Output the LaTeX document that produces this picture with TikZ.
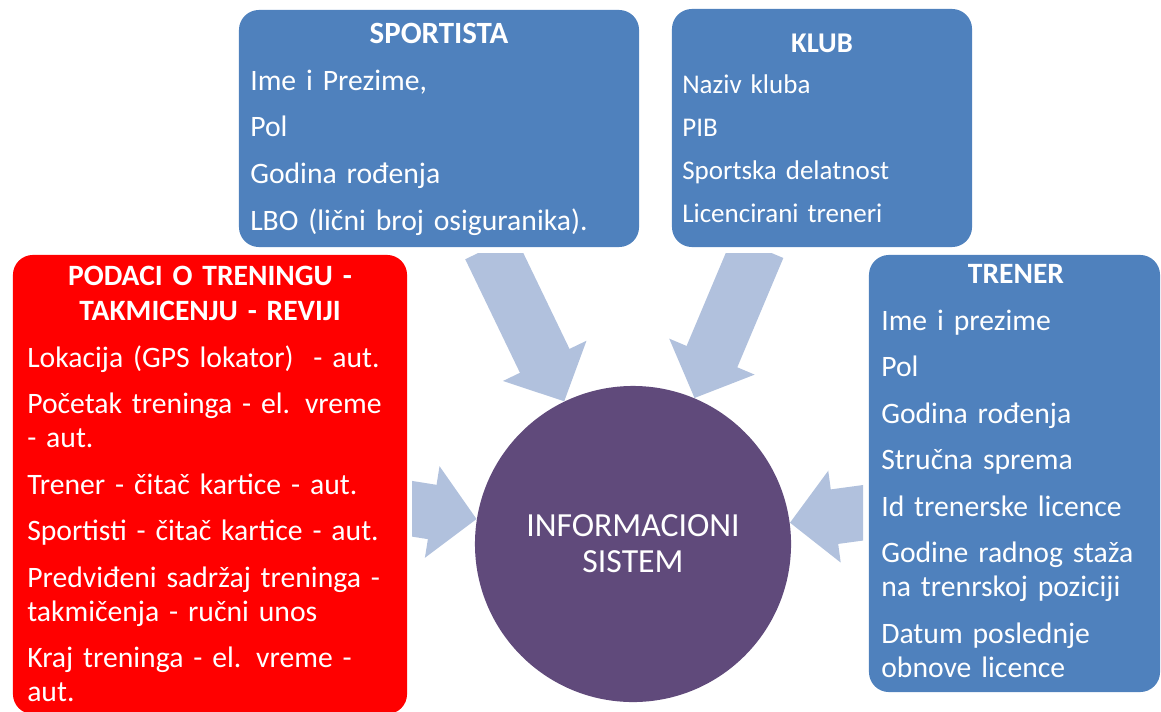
\documentclass[tikz,border=0pt]{standalone}
\usepackage{fontspec}
\setmainfont{Carlito}[WordSpace=0.9]
\usetikzlibrary{arrows.meta}

\definecolor{boxblue}{RGB}{79,129,189}
\definecolor{sysviolet}{RGB}{96,74,123}
\definecolor{arrowblue}{RGB}{177,193,221}
\definecolor{datared}{RGB}{255,0,0}

\tikzset{
  infobox/.style={rectangle, rounded corners=0.5cm, inner sep=0, fill=boxblue},
  boxtitle/.style={anchor=base, text width=9.5cm, align=center, text=white, inner sep=0,
    font=\bfseries\fontsize{21}{24.9}\selectfont},
  boxitems/.style={anchor=base west, text width=10cm, align=left, text=white, inner sep=0,
    font=\fontsize{21.1}{24.2}\selectfont},
  bigarrow/.style={arrowblue, line width=1.375cm,
    -{Triangle[width=2.25cm,length=1.125cm]}}
}

\begin{document}
\begin{tikzpicture}[x=0.025cm, y=-0.025cm]

\useasboundingbox (0,0) rectangle (1161,711);

%% The four boxes
\node[infobox, minimum width=10cm, minimum height=5.925cm] (sportista) at (439,128.5) {};
\node[infobox, minimum width=7.5cm, minimum height=5.95cm] (klub) at (822,128) {};
\node[infobox, minimum width=7.275cm, minimum height=10.925cm] (trener) at (1014.5,473.5) {};
\node[infobox, fill=datared, minimum width=9.85cm, minimum height=11.475cm] (podaci) at (210,484.5) {};

%% The titles
\node[boxtitle, font=\bfseries\fontsize{22}{24.9}\selectfont] (sportistatitle) at (439,43) {SPORTISTA};
\node[boxtitle, font=\bfseries\fontsize{20.3}{24.9}\selectfont] (klubtitle) at (822,52) {KLUB};
\node[boxtitle] (trenertitle) at (1016,283) {TRENER};
\node[boxtitle] (podacititle) at (210,285) {PODACI O TRENINGU -\\TAKMICENJU - REVIJI};

%% The items in the boxes
\node[boxitems] (sportistaitems) at (250,90)
  {Ime i Prezime,\\[9pt] Pol\\[9pt] Godina rođenja\\[9pt] LBO (lični broj osiguranika).};
\node[boxitems, font=\fontsize{19.2}{22.5}\selectfont] (klubitems) at (682,93)
  {Naziv kluba\\[8.1pt] PIB\\[8.1pt] Sportska delatnost\\[8.1pt] Licencirani treneri};
\node[boxitems] (treneritems) at (881,330)
  {Ime i prezime\\[8.9pt] Pol\\[8.9pt] Godina rođenja\\[8.9pt] Stručna sprema\\[8.9pt]
   Id trenerske licence\\[8.9pt] Godine radnog staža\\ na trenrskoj poziciji\\[8.9pt]
   Datum poslednje\\ obnove licence};
\node[boxitems] (podaciitems) at (27,367)
  {Lokacija (GPS lokator)~ - aut.\\[8.9pt] Početak treninga - el. vreme\\ - aut.\\[8.9pt]
   Trener - čitač kartice - aut.\\[8.9pt] Sportisti - čitač kartice - aut.\\[8.9pt]
   Predviđeni sadržaj treninga -\\ takmičenja - ručni unos\\[8.9pt]
   Kraj treninga - el. vreme -\\ aut.};

%% The system in the middle
\node[circle, fill=sysviolet, minimum size=7.9cm, inner sep=0, text=white, align=center,
  font=\fontsize{24}{25.6}\selectfont] (infosistem) at (633,544) {INFORMACIONI\\SISTEM};

%% The arrows into the system
\begin{scope}
\clip (412,253) rectangle (863,711);
\draw[bigarrow] ([xshift=1.275cm]sportista.south) -- (infosistem);
\draw[bigarrow] ([xshift=-1.6cm]klub.south) -- (infosistem);
\draw[bigarrow] ([yshift=-0.5875cm]podaci.east) -- (infosistem);
\draw[bigarrow] ([yshift=-0.9625cm]trener.west) -- (infosistem);
\end{scope}

\end{tikzpicture}
\end{document}
